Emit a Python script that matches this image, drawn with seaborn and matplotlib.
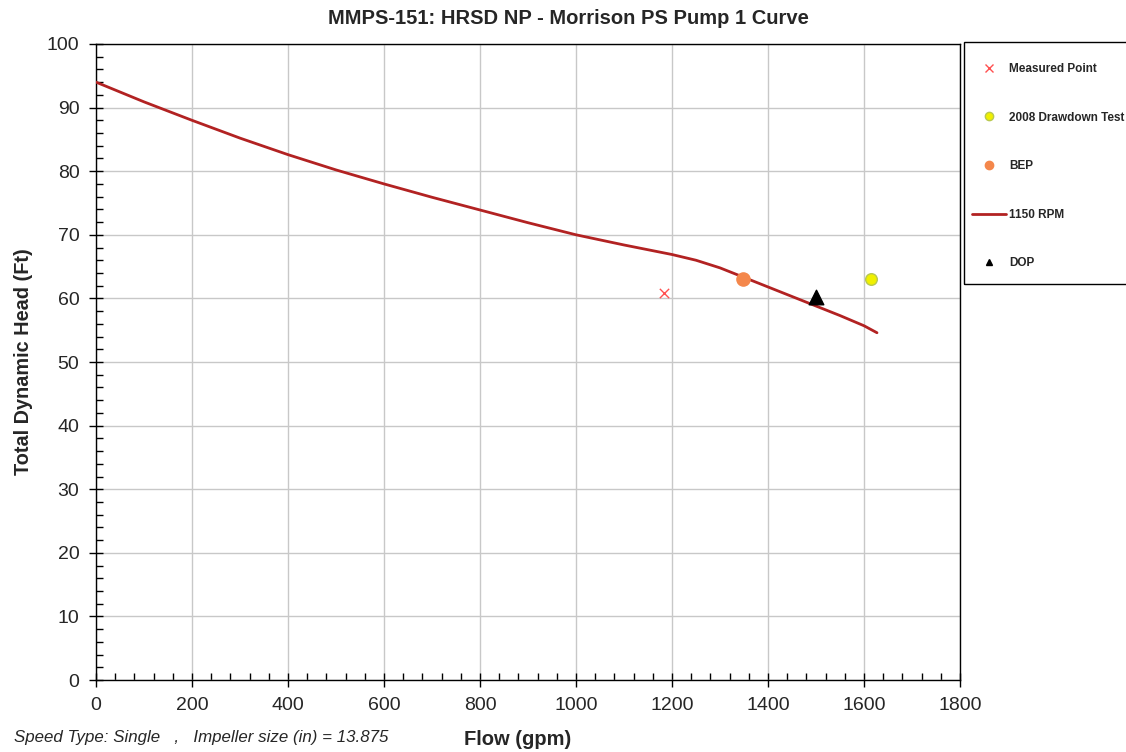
import matplotlib
matplotlib.use("Agg")
import matplotlib.pyplot as plt
import seaborn as sns
import pandas as pd
from matplotlib.ticker import MultipleLocator
from matplotlib.lines import Line2D
from matplotlib.patches import Rectangle

# pump curve at 1150 RPM
curve_flow = [0, 100, 200, 300, 400, 500, 600, 700, 800, 900, 1000, 1100, 1200, 1250, 1300,
              1350, 1400, 1450, 1500, 1550, 1600, 1627]
curve_head = [94.0, 90.9, 88.0, 85.2, 82.6, 80.2, 78.0, 75.9, 73.9, 71.9, 70.0, 68.4, 66.9, 66.0, 64.8,
              63.3, 61.8, 60.3, 58.8, 57.3, 55.7, 54.6]

measured_flow = [1183]
measured_head = [60.8]
drawdown_flow = [1615]
drawdown_head = [63.0]
bep_flow = [1348]
bep_head = [63.0]
dop_flow = [1500]
dop_head = [60.2]

sns.set_style("white")
plt.rcParams['font.family'] = ['Liberation Sans', 'DejaVu Sans']

fig = plt.figure(figsize=(11.26, 7.52), dpi=100)
ax = fig.add_axes([0.0853, 0.0957, 0.7673, 0.8458])

curve = pd.DataFrame({"flow": curve_flow, "head": curve_head})
sns.lineplot(data=curve, x="flow", y="head", ax=ax, color="#b22222", linewidth=2, zorder=3)

ax.scatter(measured_flow, measured_head, marker="x", color="#ff5050", s=45, linewidths=1, zorder=4)
ax.scatter(drawdown_flow, drawdown_head, marker="o", color="#f0f000", edgecolor="#b8c850", s=70, zorder=4)
ax.scatter(bep_flow, bep_head, marker="o", color="#f4874b", s=90, zorder=4)
ax.scatter(dop_flow, dop_head, marker="^", color="black", s=110, zorder=5)

ax.set_xlim(0, 1800)
ax.set_ylim(0, 100)
ax.xaxis.set_major_locator(MultipleLocator(200))
ax.xaxis.set_minor_locator(MultipleLocator(40))
ax.yaxis.set_major_locator(MultipleLocator(10))
ax.yaxis.set_minor_locator(MultipleLocator(2))
ax.grid(True, which="major", color="#c8c8c8", linewidth=1)
ax.tick_params(which="major", direction="inout", length=10, width=1, labelsize=14, color="black")
ax.tick_params(which="minor", direction="in", length=5, width=1, color="black")
ax.tick_params(axis="y", which="major", pad=7)
ax.tick_params(axis="x", which="major", pad=7)
ax.tick_params(axis="both", which="both", bottom=True, left=True)
for s in ax.spines.values():
    s.set_color("black")
    s.set_linewidth(1)

ax.set_xlabel("")
ax.set_ylabel("")
fig.text(0.505, 0.976, "MMPS-151: HRSD NP - Morrison PS Pump 1 Curve", fontsize=14.5,
         fontweight="bold", ha="center", va="center")
fig.text(0.021, 0.519, "Total Dynamic Head (Ft)", fontsize=14.3, fontweight="bold",
         rotation=90, ha="center", va="center")
fig.text(0.46, 0.016, "Flow (gpm)", fontsize=14.5, fontweight="bold", ha="center", va="center")
fig.text(0.012, 0.019, "Speed Type: Single   ,   Impeller size (in) = 13.875", fontsize=12.2,
         fontstyle="italic", ha="left", va="center")

# legend (frame drawn separately so rows can be spaced like the original)
handles = [
    Line2D([], [], marker="x", color="#ff5050", linestyle="none", markersize=6),
    Line2D([], [], marker="o", color="#f0f000", markeredgecolor="#b8c850", linestyle="none", markersize=6),
    Line2D([], [], marker="o", color="#f4874b", linestyle="none", markersize=6),
    Line2D([], [], color="#b22222", linewidth=2),
    Line2D([], [], marker="^", color="black", linestyle="none", markersize=5),
]
labels = ["Measured Point", "2008 Drawdown Test", "BEP", "1150 RPM", "DOP"]
fig.legend(handles, labels, loc="upper left", bbox_to_anchor=(0.8632, 0.9162), borderaxespad=0,
           frameon=False, prop={"weight": "bold", "size": 8.5},
           labelspacing=3.1, handlelength=2.9, borderpad=0, handletextpad=0.25)
fig.add_artist(Rectangle((964 / 1126, 1 - 284 / 752), 0.2, 242 / 752, transform=fig.transFigure,
                         fill=False, edgecolor="black", linewidth=1))

fig.savefig("out.png", dpi=100)
